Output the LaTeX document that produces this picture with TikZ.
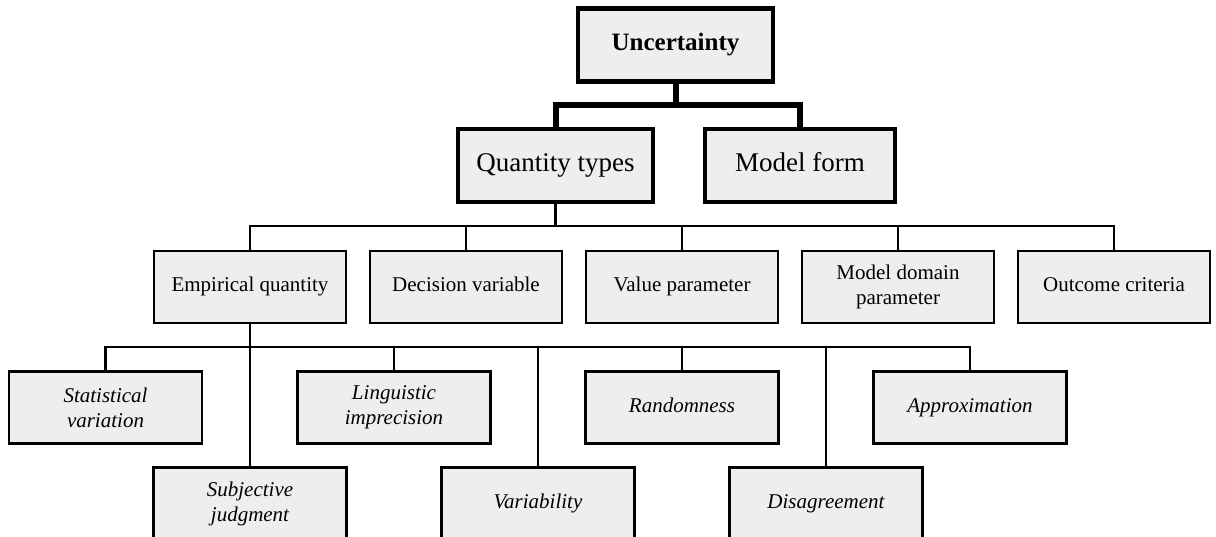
\documentclass[tikz,border=0pt]{standalone}
\usepackage{fontspec}
\setmainfont{Liberation Serif}
\usetikzlibrary{positioning}
\definecolor{boxgray}{RGB}{238,238,238}
\begin{document}
\begin{tikzpicture}[x=1pt, y=-1pt,
  topbox/.style={draw, fill=boxgray, line width=4.5pt, inner sep=0pt, minimum height=73pt, align=center, text height=18pt, text depth=6pt},
  midbox/.style={draw, fill=boxgray, line width=2.5pt, inner sep=0pt, minimum width=192pt, minimum height=72pt, align=center, font=\fontsize{21}{25}\selectfont},
  leafbox/.style={draw, fill=boxgray, line width=2.5pt, inner sep=0pt, minimum width=193pt, minimum height=72pt, align=center, font=\fontsize{21}{25}\selectfont\itshape},
  oneline/.style={text height=15pt, text depth=5pt},
  thicklink/.style={line width=6pt},
  thinlink/.style={line width=2.5pt}]
\clip (0,0) rectangle (1216,537);
\fill[white] (0,0) rectangle (1216,537);

% top levels
\node[topbox, minimum width=195pt, font=\fontsize{25}{30}\selectfont\bfseries] (unc) at (675.5,45) {Uncertainty};
\node[topbox, minimum width=195pt, font=\fontsize{27}{32}\selectfont] (qty) at (555.5,165.5) {Quantity types};
\node[topbox, minimum width=190pt, font=\fontsize{27}{32}\selectfont] (mod) at (800,165.5) {Model form};

% quantity types
\node[midbox, oneline] (emp) at (250,287) {Empirical quantity};
\node[midbox, oneline] (dec) at (466,287) {Decision variable};
\node[midbox, oneline] (val) at (682,287) {Value parameter};
\node[midbox] (dom) at (898,287) {Model domain\\parameter};
\node[midbox, oneline] (out) at (1114,287) {Outcome criteria};

% sources of uncertainty
\node[leafbox] (stat) at (105.5,407.5) {Statistical\\variation};
\node[leafbox] (ling) at (394,407.5) {Linguistic\\imprecision};
\node[leafbox, oneline] (rand) at (682,407.5) {Randomness};
\node[leafbox, oneline] (appr) at (970,407.5) {Approximation};
\node[leafbox] (subj) at (250,503.5) {Subjective\\judgment};
\node[leafbox, oneline] (var) at (538,503.5) {Variability};
\node[leafbox, oneline] (dis) at (826,503.5) {Disagreement};

\coordinate (bar1) at (678,105);
\coordinate (bar2) at (557,226);
\coordinate (bar3) at (250,347);

\draw[thicklink] (unc.south) -- (unc.south |- bar1);
\draw[thicklink] (qty.north) -- (qty.north |- bar1) -- (mod.north |- bar1) -- (mod.north);

\draw[thinlink] (qty.south) -- (qty.south |- bar2);
\draw[thinlink] (emp.north) -- (emp.north |- bar2) -- (out.north |- bar2) -- (out.north);
\foreach \n in {dec,val,dom}
  \draw[thinlink] (\n.north) -- (\n.north |- bar2);

\draw[thinlink] (emp.south) -- (subj.north);
\draw[thinlink] (stat.north) -- (stat.north |- bar3) -- (appr.north |- bar3) -- (appr.north);
\foreach \n in {ling,rand,var,dis}
  \draw[thinlink] (\n.north) -- (\n.north |- bar3);
\end{tikzpicture}
\end{document}
